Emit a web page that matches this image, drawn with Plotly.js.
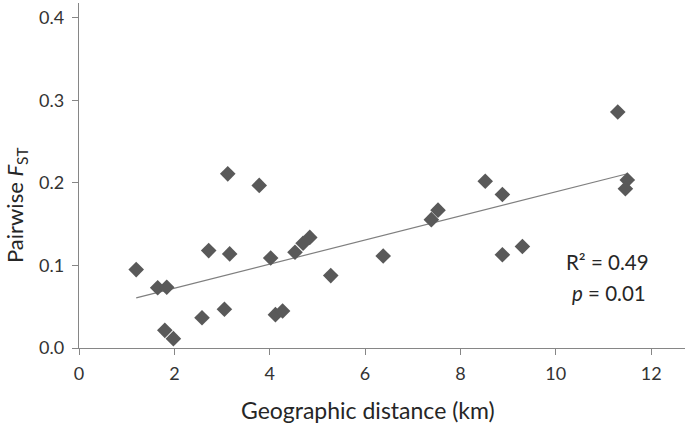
<!DOCTYPE html>
<html><head><meta charset="utf-8">
<script src="https://cdn.plot.ly/plotly-3.0.1.min.js"></script>
<style>body{margin:0;background:#fff}#c{width:685px;height:425px}</style>
</head><body><div id="c"></div>
<script>
const distanceKm = [1.20,1.65,1.84,1.80,1.98,2.58,2.72,3.05,3.12,3.16,3.78,4.02,4.12,4.27,4.53,4.70,4.84,5.28,6.38,7.39,7.53,8.52,8.88,8.88,9.30,11.30,11.50,11.46];
const pairwiseFst = [0.095,0.073,0.0736,0.0214,0.0113,0.0367,0.118,0.0469,0.211,0.114,0.197,0.109,0.0404,0.0448,0.116,0.127,0.134,0.0877,0.1115,0.1555,0.167,0.202,0.186,0.113,0.123,0.286,0.2036,0.193];
const xTicks = [0,2,4,6,8,10,12];
const yTicks = [0,0.1,0.2,0.3,0.4];
const yTickText = ['0.0','0.1','0.2','0.3','0.4'];
const xTitle = 'Geographic distance (km)';
const yTitle = 'Pairwise <i>F</i><sub>ST</sub>';
const statLines = ['R² = 0.49', '<i>p</i> = 0.01'];

// least-squares fit
const n = distanceKm.length;
const mx = distanceKm.reduce((a,b)=>a+b,0)/n;
const my = pairwiseFst.reduce((a,b)=>a+b,0)/n;
let sxy=0,sxx=0;
for(let i=0;i<n;i++){sxy+=(distanceKm[i]-mx)*(pairwiseFst[i]-my);sxx+=(distanceKm[i]-mx)**2;}
const slope=sxy/sxx, icpt=my-slope*mx;
const xmin=Math.min(...distanceKm), xmax=Math.max(...distanceKm);

const font = 'Lato, "Open Sans", sans-serif';
const W=606, H=345, L=79, T=3;
const px = v => (v-L)/W, py = v => (T+H-v)/H;
const data = [
 {x:[xmin,xmax], y:[icpt+slope*xmin, icpt+slope*xmax], mode:'lines', line:{color:'#7f7f7f',width:1.2}, hoverinfo:'skip'},
 {x:distanceKm, y:pairwiseFst, mode:'markers', marker:{symbol:'diamond', size:12, color:'#595959'}}
];
const layout = {
 width:685, height:425, showlegend:false,
 margin:{l:L,r:0,t:T,b:77},
 paper_bgcolor:'#fff', plot_bgcolor:'#fff',
 font:{family:font, color:'#262626'},
 xaxis:{range:[0,12.71], tickvals:xTicks, ticks:'outside', ticklen:6, tickcolor:'#868686', showline:true, linecolor:'#868686', linewidth:1.3, showgrid:false, zeroline:false, tickfont:{size:18,color:'#333'}, ticklabelstandoff:3},
 yaxis:{range:[0,0.418], tickvals:yTicks, ticktext:yTickText, ticks:'outside', ticklen:6, tickcolor:'#868686', showline:true, linecolor:'#868686', linewidth:1.3, showgrid:false, zeroline:false, tickfont:{size:18,color:'#333'}, ticklabelstandoff:4},
 annotations:[
  {xref:'paper',yref:'paper',x:px(368),y:py(410),xanchor:'center',yanchor:'middle',text:xTitle,showarrow:false,font:{size:23,color:'#262626'}},
  {xref:'paper',yref:'paper',x:px(16),y:py(205),xanchor:'center',yanchor:'middle',textangle:-90,text:yTitle,showarrow:false,font:{size:22,color:'#262626'}},
  {xref:'paper',yref:'paper',x:px(607),y:py(262),xanchor:'center',yanchor:'middle',text:statLines[0],showarrow:false,font:{size:20.5,color:'#262626'}},
  {xref:'paper',yref:'paper',x:px(609),y:py(293),xanchor:'center',yanchor:'middle',text:statLines[1],showarrow:false,font:{size:20.5,color:'#262626'}}
 ]
};
Plotly.newPlot('c', data, layout, {displayModeBar:false, staticPlot:true});
</script></body></html>
